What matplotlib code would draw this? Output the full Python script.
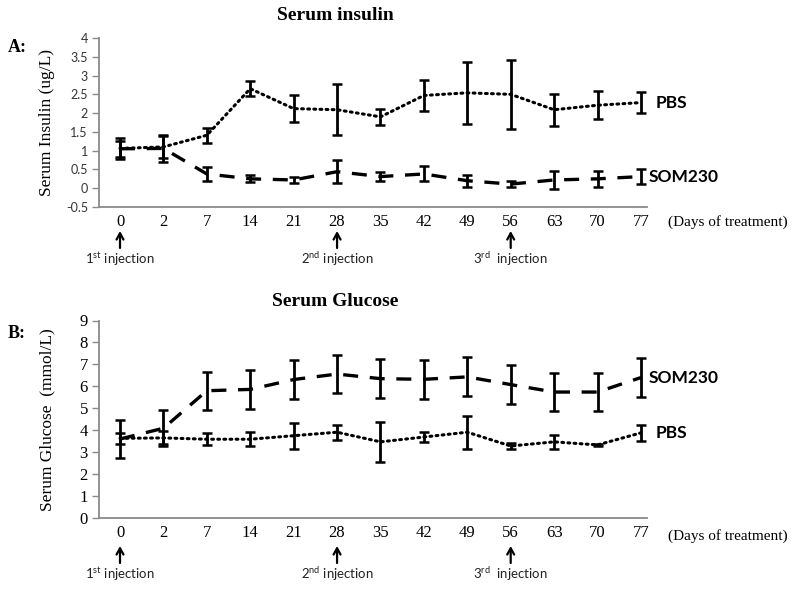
import numpy as np
import matplotlib.pyplot as plt

# Days of treatment (category axis)
days = ['0', '2', '7', '14', '21', '28', '35', '42', '49', '56', '63', '70', '77']

# Serum insulin (ug/L)
insulin_pbs = [1.06, 1.10, 1.41, 2.65, 2.12, 2.09, 1.90, 2.47, 2.54, 2.50, 2.09, 2.21, 2.28]
insulin_pbs_err = [0.27, 0.30, 0.20, 0.20, 0.35, 0.68, 0.22, 0.41, 0.83, 0.92, 0.42, 0.37, 0.27]
insulin_som = [1.05, 1.06, 0.38, 0.25, 0.22, 0.44, 0.31, 0.38, 0.20, 0.11, 0.22, 0.25, 0.31]
insulin_som_err = [0.22, 0.35, 0.19, 0.09, 0.07, 0.30, 0.12, 0.20, 0.16, 0.08, 0.23, 0.21, 0.20]

# Serum glucose (mmol/L)
glucose_pbs = [3.63, 3.65, 3.59, 3.59, 3.75, 3.91, 3.47, 3.69, 3.91, 3.28, 3.47, 3.33, 3.88]
glucose_pbs_err = [0.25, 0.30, 0.27, 0.31, 0.59, 0.34, 0.90, 0.22, 0.75, 0.12, 0.33, 0.05, 0.37]
glucose_som = [3.60, 4.09, 5.80, 5.86, 6.31, 6.56, 6.35, 6.32, 6.43, 6.08, 5.74, 5.74, 6.40]
glucose_som_err = [0.88, 0.82, 0.86, 0.88, 0.88, 0.88, 0.88, 0.88, 0.89, 0.87, 0.86, 0.86, 0.87]

# Injection markers: (day index, label)
injections = [(0, '1$^{\\mathrm{st}}$ injection'),
              (5, '2$^{\\mathrm{nd}}$ injection'),
              (9, '3$^{\\mathrm{rd}}$  injection')]

plt.rcParams['mathtext.fontset'] = 'custom'
plt.rcParams['mathtext.rm'] = 'Lato'

SERIF = 'Liberation Serif'
SANS = 'Lato'
GRAY = '#8a8a8a'


def draw_panel(ax, pbs, pbs_err, som, som_err, ylim, yticks, ylabel, ytick_font,
               label_order, arrow_off, height_px):
    x = np.arange(len(days))
    ax.errorbar(x, pbs, yerr=pbs_err, color='black', linestyle=(0, (0.6, 1.4)),
                lw=2.2, elinewidth=2, capsize=3.5, capthick=1.8, dash_capstyle='round')
    ax.errorbar(x, som, yerr=som_err, color='black', linestyle=(0, (4.5, 3.5)),
                lw=2.4, elinewidth=2, capsize=3.5, capthick=1.8)

    ax.set_xlim(-0.484, 12.14)
    ax.set_ylim(*ylim)
    ax.set_yticks(yticks)
    ax.set_xticks(x)
    ax.set_xticklabels(days, fontfamily=SERIF, fontsize=12)
    ax.tick_params(axis='x', length=0, pad=5)
    ax.tick_params(axis='y', length=5, color=GRAY, width=1, pad=3)
    for lbl in ax.get_yticklabels():
        lbl.set_fontfamily(ytick_font[0])
        lbl.set_fontsize(ytick_font[1])
        lbl.set_color(ytick_font[2])
    for s in ['top', 'right']:
        ax.spines[s].set_visible(False)
    for s in ['left', 'bottom']:
        ax.spines[s].set_color(GRAY)
        ax.spines[s].set_linewidth(1.3)

    ax.set_ylabel(ylabel, fontfamily=SERIF, fontsize=12.5)
    ax.yaxis.set_label_coords(-0.08, 0.5)

    # series labels at the right end
    for name, vals, dx in label_order:
        ax.annotate(name, xy=(x[-1], vals[-1]), xytext=(dx, 0), textcoords='offset pixels',
                    va='center', ha='left', fontfamily=SANS, fontweight='bold', fontsize=12.5)

    # injection arrows
    tip, tail, txt = arrow_off
    for idx, label in injections:
        ax.annotate('', xy=(idx, tip / height_px), xycoords=('data', 'axes fraction'),
                    xytext=(0, tail - tip), textcoords='offset pixels',
                    annotation_clip=False,
                    arrowprops=dict(arrowstyle='->,head_length=0.45,head_width=0.25',
                                    color='black', lw=1.6, shrinkA=0, shrinkB=0))
        ax.annotate(label, xy=(idx, 0), xycoords=('data', 'axes fraction'),
                    xytext=(0, txt), textcoords='offset pixels', ha='center', va='center',
                    fontfamily=SANS, fontsize=9.5, color='#222222', annotation_clip=False)


fig = plt.figure(figsize=(8, 5.91), dpi=100)

ax1 = fig.add_axes([99 / 800, 1 - 207 / 591, 548 / 800, 169 / 591])
draw_panel(ax1, insulin_pbs, insulin_pbs_err, insulin_som, insulin_som_err,
           (-0.5, 4), np.arange(-0.5, 4.01, 0.5), 'Serum Insulin (ug/L)',
           (SANS, 9, '#333333'),
           [('PBS', insulin_pbs, 15), ('SOM230', insulin_som, 8)],
           (-24, -41, -52), 169)
ax1.set_yticklabels(['-0.5', '0', '0.5', '1', '1.5', '2', '2.5', '3', '3.5', '4'])

ax2 = fig.add_axes([99 / 800, 1 - 518 / 591, 548 / 800, 197.5 / 591])
draw_panel(ax2, glucose_pbs, glucose_pbs_err, glucose_som, glucose_som_err,
           (0, 9), np.arange(0, 10, 1), 'Serum Glucose  (mmol/L)',
           (SERIF, 12, 'black'),
           [('SOM230', glucose_som, 8), ('PBS', glucose_pbs, 15)],
           (-28, -45, -56), 197.5)

fig.text(335 / 800, 1 - 15 / 591, 'Serum insulin', ha='center', va='center',
         fontfamily=SERIF, fontweight='bold', fontsize=14)
fig.text(335 / 800, 1 - 302 / 591, 'Serum Glucose', ha='center', va='center',
         fontfamily=SERIF, fontweight='bold', fontsize=14)
fig.text(8 / 800, 1 - 47 / 591, 'A:', ha='left', va='center',
         fontfamily=SERIF, fontweight='bold', fontsize=13)
fig.text(8 / 800, 1 - 333 / 591, 'B:', ha='left', va='center',
         fontfamily=SERIF, fontweight='bold', fontsize=13)
fig.text(668 / 800, 1 - 222 / 591, '(Days of treatment)', ha='left', va='center',
         fontfamily=SERIF, fontsize=11)
fig.text(668 / 800, 1 - 536 / 591, '(Days of treatment)', ha='left', va='center',
         fontfamily=SERIF, fontsize=11)

fig.savefig('out.png', dpi=100)
